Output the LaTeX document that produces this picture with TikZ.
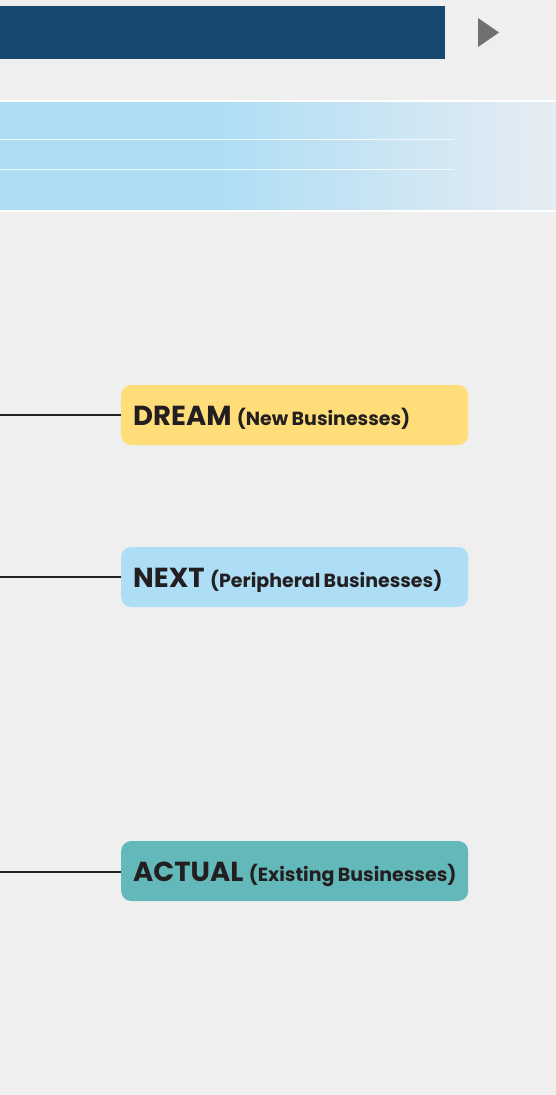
\documentclass[tikz,border=0pt]{standalone}
\usepackage{fontspec}
\setmainfont{Poppins}
\definecolor{pagegray}{HTML}{EFEFEF}
\definecolor{titleblue}{HTML}{17486F}
\definecolor{bandblue}{HTML}{ADDEF5}
\definecolor{bandfade}{HTML}{E6ECF2}
\definecolor{dreamyellow}{HTML}{FFDE7A}
\definecolor{nextblue}{HTML}{ADDEF6}
\definecolor{actualteal}{HTML}{63B8B9}
\definecolor{linkdark}{HTML}{231F20}
\definecolor{arrowgray}{HTML}{707070}
\tikzset{
    bizbox/.style={rectangle, rounded corners=10pt, anchor=west, align=left,
        text width=323pt, inner xsep=12pt, minimum height=60pt, text=linkdark},
    link/.style={draw=linkdark, line width=1.5pt},
}
\newcommand{\bizlabel}[2]{\raisebox{-3pt}[\height][\depth]{%
    {\fontsize{27.5}{27.5}\selectfont\bfseries #1}\hspace{2pt}
    {\fontsize{19}{19}\selectfont\bfseries #2}}}
\begin{document}
\begin{tikzpicture}[x=1pt,y=-1pt]
    % Draw page background
    \fill[pagegray] (0,0) rectangle (556,1095);
    \useasboundingbox (0,0) rectangle (556,1095);
    % Draw title bar and arrow
    \fill[titleblue] (0,6) rectangle (445,59);
    \fill[arrowgray] (478,18) -- (499,32.5) -- (478,47) -- cycle;
    % Draw band with fading right end
    \fill[bandblue] (0,101) rectangle (215,211);
    \shade[left color=bandblue, right color=bandfade] (215,101) rectangle (556,211);
    \draw[white, line width=2pt] (0,101) -- (556,101);
    \draw[white, line width=2pt] (0,211) -- (556,211);
    \draw[white!85!bandblue, line width=1pt] (0,139) -- (453,139);
    \draw[white!85!bandblue, line width=1pt] (0,169) -- (453,169);
    % Draw boxes
    \node[bizbox, fill=dreamyellow] (dream) at (121,415)
        {\bizlabel{DREAM}{(New Businesses)}};
    \node[bizbox, fill=nextblue] (next) at (121,577)
        {\bizlabel{NEXT}{(Peripheral Businesses)}};
    \node[bizbox, fill=actualteal] (actual) at (121,871)
        {\bizlabel{ACTUAL}{(Existing Businesses)}};
    % Draw lines into boxes
    \coordinate (dreamin) at (0,415);
    \coordinate (nextin) at (0,577);
    \coordinate (actualin) at (0,872);
    \draw[link] (dreamin) -- (dream.west |- dreamin);
    \draw[link] (nextin) -- (next.west |- nextin);
    \draw[link] (actualin) -- (actual.west |- actualin);
\end{tikzpicture}
\end{document}
